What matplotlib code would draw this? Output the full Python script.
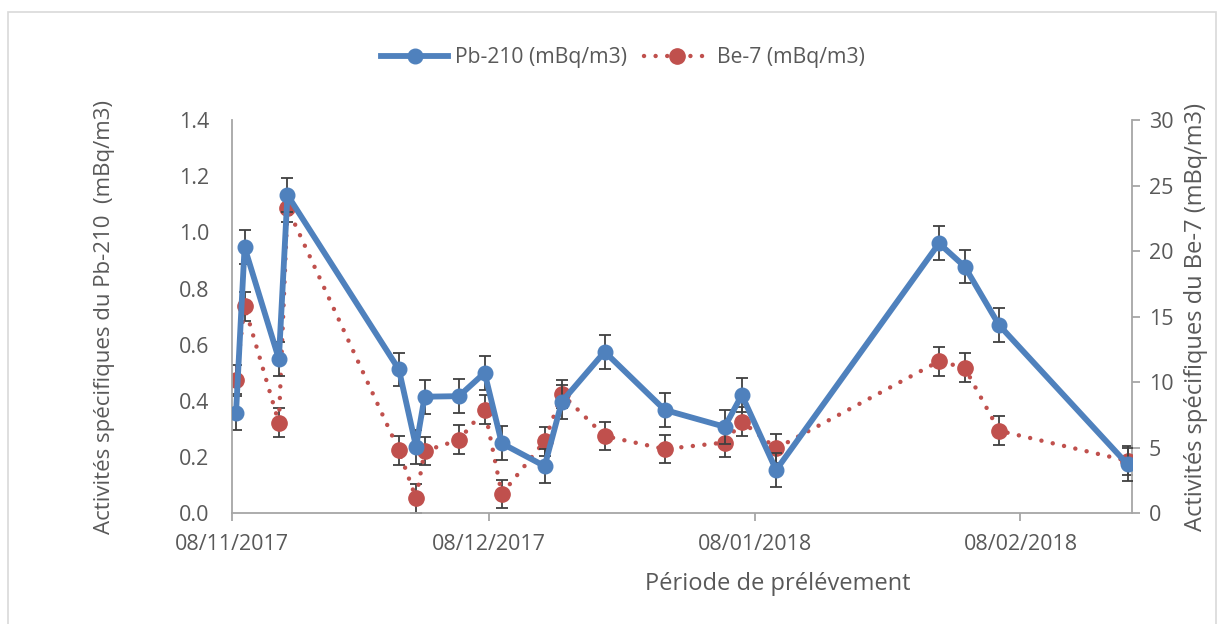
import numpy as np
import pandas as pd
import matplotlib
matplotlib.use('Agg')
import matplotlib.pyplot as plt
import matplotlib.dates as mdates
from matplotlib.patches import Rectangle

plt.rcParams['font.family'] = ['Open Sans', 'DejaVu Sans']

# sampling dates (samples taken around midday)
dates = pd.to_datetime([
    '2017-11-08 12:00', '2017-11-09 12:00', '2017-11-13 12:00', '2017-11-14 12:00',
    '2017-11-27 12:00', '2017-11-29 12:00', '2017-11-30 12:00', '2017-12-04 12:00',
    '2017-12-07 12:00', '2017-12-09 12:00', '2017-12-14 12:00', '2017-12-16 12:00',
    '2017-12-21 12:00', '2017-12-28 12:00', '2018-01-04 12:00', '2018-01-06 12:00',
    '2018-01-10 12:00', '2018-01-29 12:00', '2018-02-01 12:00', '2018-02-05 12:00',
    '2018-02-20 12:00',
])
pb210 = [0.356, 0.947, 0.549, 1.133, 0.512, 0.237, 0.415, 0.417, 0.500, 0.249,
         0.168, 0.397, 0.575, 0.368, 0.308, 0.421, 0.154, 0.961, 0.878, 0.670, 0.174]
be7 = [10.2, 15.8, 6.9, 23.3, 4.8, 1.14, 4.75, 5.6, 7.9, 1.47,
       5.5, 9.1, 5.9, 4.9, 5.4, 7.0, 4.95, 11.6, 11.1, 6.3, 4.0]
pb210_err = 0.06
be7_err = 1.1

blue = '#4F81BD'
red = '#C0504D'
grey_txt = '#595959'
axis_col = '#A6A6A6'

fig = plt.figure(figsize=(12.17, 6.24), dpi=100)
fig.patches.append(Rectangle((8 / 1217, -0.1), (1215.5 - 8) / 1217, 1.1 - 11.5 / 624,
                             transform=fig.transFigure, fill=False,
                             edgecolor='#D9D9D9', linewidth=1.2))
ax = fig.add_axes([0.1904, 0.1774, 0.9301 - 0.1904, 0.8077 - 0.1774])
ax2 = ax.twinx()

# Pb-210 on the left axis
ax.errorbar(dates, pb210, yerr=pb210_err, fmt='none', ecolor='#404040',
            elinewidth=1.3, capsize=4.5, capthick=1.3, zorder=2)
l1, = ax.plot(dates, pb210, color=blue, linewidth=4.2, marker='o',
              markersize=10.5, zorder=3, label='Pb-210 (mBq/m3)')

# Be-7 on the right axis
ax2.errorbar(dates, be7, yerr=be7_err, fmt='none', ecolor='#404040',
             elinewidth=1.3, capsize=4.5, capthick=1.3, zorder=2)
l2, = ax2.plot(dates, be7, color=red, linewidth=3.2, linestyle=(0, (0.01, 2.6)),
               dash_capstyle='round', marker='o', markersize=11, zorder=3,
               label='Be-7 (mBq/m3)')

xmin = pd.Timestamp('2017-11-08')
xmax = pd.Timestamp('2018-02-21')
ax.set_xlim(xmin, xmax)
ax.set_ylim(0, 1.4)
ax2.set_ylim(0, 30)
ax.set_yticks(np.arange(0, 1.41, 0.2))
ax2.set_yticks(np.arange(0, 31, 5))
ax.set_xticks(pd.to_datetime(['2017-11-08', '2017-12-08', '2018-01-08', '2018-02-08']))
ax.xaxis.set_major_formatter(mdates.DateFormatter('%d/%m/%Y'))
ax.yaxis.set_major_formatter(plt.FormatStrFormatter('%.1f'))

for a in (ax, ax2):
    for s in a.spines.values():
        s.set_visible(False)
ax.spines['left'].set_visible(True)
ax.spines['bottom'].set_visible(True)
ax2.spines['right'].set_visible(True)
for s in (ax.spines['left'], ax.spines['bottom'], ax2.spines['right']):
    s.set_color(axis_col)
    s.set_linewidth(1.3)

ax.tick_params(axis='y', length=0, labelsize=15.5, labelcolor=grey_txt, pad=16)
ax.tick_params(axis='x', length=6, width=1.3, color=axis_col, labelsize=15.5,
               labelcolor=grey_txt, pad=9)
ax2.tick_params(axis='y', length=6, width=1.3, color=axis_col, labelsize=15.5,
                labelcolor=grey_txt, pad=6)

ax.set_ylabel('Activités spécifiques du Pb-210  (mBq/m3)', fontsize=16,
              color=grey_txt, labelpad=46)
ax2.set_ylabel('Activités spécifiques du Be-7 (mBq/m3)', fontsize=17,
               color=grey_txt, labelpad=8)
ax.set_xlabel('Période de prélévement', fontsize=17, color=grey_txt)
ax.xaxis.set_label_coords(0.607, -0.148)

ax.set_zorder(ax2.get_zorder() + 1)
ax.patch.set_visible(False)

fig.legend(handles=[l1, l2], loc='center', bbox_to_anchor=(0.512, 0.908), ncol=2,
           frameon=False, fontsize=15.2, labelcolor=grey_txt, handlelength=3.2,
           columnspacing=0.8, handletextpad=0.3)

plt.savefig('out.png', dpi=100)
